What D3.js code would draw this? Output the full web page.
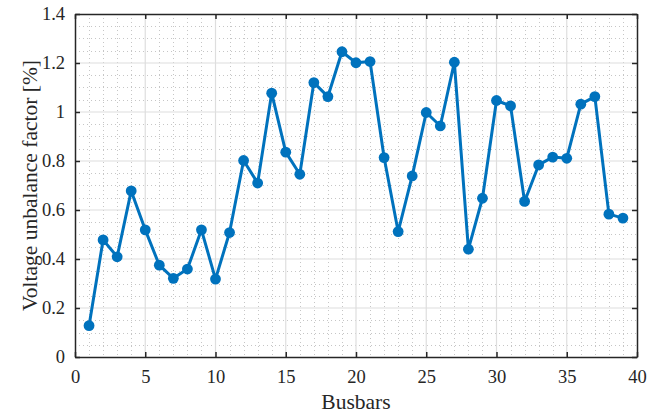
<!DOCTYPE html>
<html>
<head>
<meta charset="utf-8">
<script src="https://cdn.jsdelivr.net/npm/d3@7"></script>
<style>
  body { margin: 0; background: #fff; }
</style>
</head>
<body>
<div id="chart"></div>
<script>
// busbar numbers and voltage unbalance factor [%]
var busbars = d3.range(1, 40);
var vuf = [0.128, 0.478, 0.409, 0.678, 0.519, 0.375, 0.321, 0.359, 0.519, 0.318,
           0.508, 0.802, 0.71, 1.077, 0.836, 0.746, 1.12, 1.063, 1.246, 1.201,
           1.206, 0.814, 0.512, 0.739, 0.998, 0.943, 1.203, 0.44, 0.648, 1.047,
           1.025, 0.635, 0.784, 0.816, 0.811, 1.032, 1.063, 0.583, 0.567];
var xTicks = [0, 5, 10, 15, 20, 25, 30, 35, 40];
var yTicks = [0, 0.2, 0.4, 0.6, 0.8, 1, 1.2, 1.4];

var W = 660, H = 416;
var m = {left: 75, right: 23, top: 14, bottom: 59};
var w = W - m.left - m.right, h = H - m.top - m.bottom;
var serif = '"Liberation Serif", "Times New Roman", serif';

var svg = d3.select('#chart').append('svg')
    .attr('width', W).attr('height', H)
    .style('font-family', serif);
var g = svg.append('g').attr('transform', 'translate(' + m.left + ',' + m.top + ')');

var x = d3.scaleLinear().domain([0, 40]).range([0, w]);
var y = d3.scaleLinear().domain([0, 1.4]).range([h, 0]);

// minor grid (dotted)
g.append('g').selectAll('line').data(d3.range(1, 40).filter(function(d) { return d % 5 })).enter()
  .append('line')
    .attr('x1', function(d) { return Math.round(x(d)) + 0.5 }).attr('x2', function(d) { return Math.round(x(d)) + 0.5 })
    .attr('y1', 0).attr('y2', h)
    .attr('stroke', '#c6c6c6').attr('stroke-width', 1).attr('stroke-dasharray', '1,3');
g.append('g').selectAll('line').data(d3.range(1, 28).filter(function(d) { return d % 4 })).enter()
  .append('line')
    .attr('y1', function(d) { return Math.round(y(d * 0.05)) + 0.5 }).attr('y2', function(d) { return Math.round(y(d * 0.05)) + 0.5 })
    .attr('x1', 0).attr('x2', w)
    .attr('stroke', '#c6c6c6').attr('stroke-width', 1).attr('stroke-dasharray', '1,3');

// major grid
g.append('g').selectAll('line').data(xTicks.slice(1, -1)).enter()
  .append('line')
    .attr('x1', function(d) { return x(d) }).attr('x2', function(d) { return x(d) })
    .attr('y1', 0).attr('y2', h)
    .attr('stroke', '#dedede').attr('stroke-width', 1.2);
g.append('g').selectAll('line').data(yTicks.slice(1, -1)).enter()
  .append('line')
    .attr('y1', function(d) { return y(d) }).attr('y2', function(d) { return y(d) })
    .attr('x1', 0).attr('x2', w)
    .attr('stroke', '#dedede').attr('stroke-width', 1.2);

// axes with inward ticks
var fmt = function(d) { return d3.format('~g')(d) };
var axB = g.append('g').attr('transform', 'translate(0,' + h + ')')
    .call(d3.axisBottom(x).tickValues(xTicks).tickSizeInner(-5).tickSizeOuter(0).tickPadding(12.5).tickFormat(fmt));
var axL = g.append('g')
    .call(d3.axisLeft(y).tickValues(yTicks).tickSizeInner(-5).tickSizeOuter(0).tickPadding(10).tickFormat(fmt));
var axT = g.append('g')
    .call(d3.axisTop(x).tickValues(xTicks).tickSizeInner(-5).tickSizeOuter(0).tickFormat(''));
var axR = g.append('g').attr('transform', 'translate(' + w + ',0)')
    .call(d3.axisRight(y).tickValues(yTicks).tickSizeInner(-5).tickSizeOuter(0).tickFormat(''));

[axB, axL, axT, axR].forEach(function(a) {
    a.attr('font-family', null).attr('font-size', null);
    a.select('.domain').attr('stroke', '#262626').attr('stroke-width', 1.5);
    a.selectAll('.tick line').attr('stroke', '#262626').attr('stroke-width', 1.5);
    a.selectAll('.tick text')
        .style('font-family', serif).style('font-size', '18.5px').style('fill', '#262626');
});

// data line and markers
var line = d3.line()
    .x(function(d, i) { return x(busbars[i]) })
    .y(function(d) { return y(d) });
g.append('path').datum(vuf)
    .attr('d', line)
    .attr('fill', 'none').attr('stroke', '#0072BD').attr('stroke-width', 3)
    .attr('stroke-linejoin', 'round');
g.append('g').selectAll('circle').data(vuf).enter()
  .append('circle')
    .attr('cx', function(d, i) { return x(busbars[i]) })
    .attr('cy', function(d) { return y(d) })
    .attr('r', 5.4)
    .attr('fill', '#0072BD');

// labels
svg.append('text')
    .attr('x', m.left + w / 2).attr('y', 409)
    .attr('text-anchor', 'middle')
    .style('font-family', serif).style('font-size', '21.5px').style('fill', '#262626')
    .text('Busbars');
svg.append('text')
    .attr('transform', 'translate(37,' + (m.top + h / 2) + ') rotate(-90)')
    .attr('text-anchor', 'middle')
    .style('font-family', serif).style('font-size', '21.5px').style('fill', '#262626')
    .text('Voltage unbalance factor [%]');
</script>
</body>
</html>
